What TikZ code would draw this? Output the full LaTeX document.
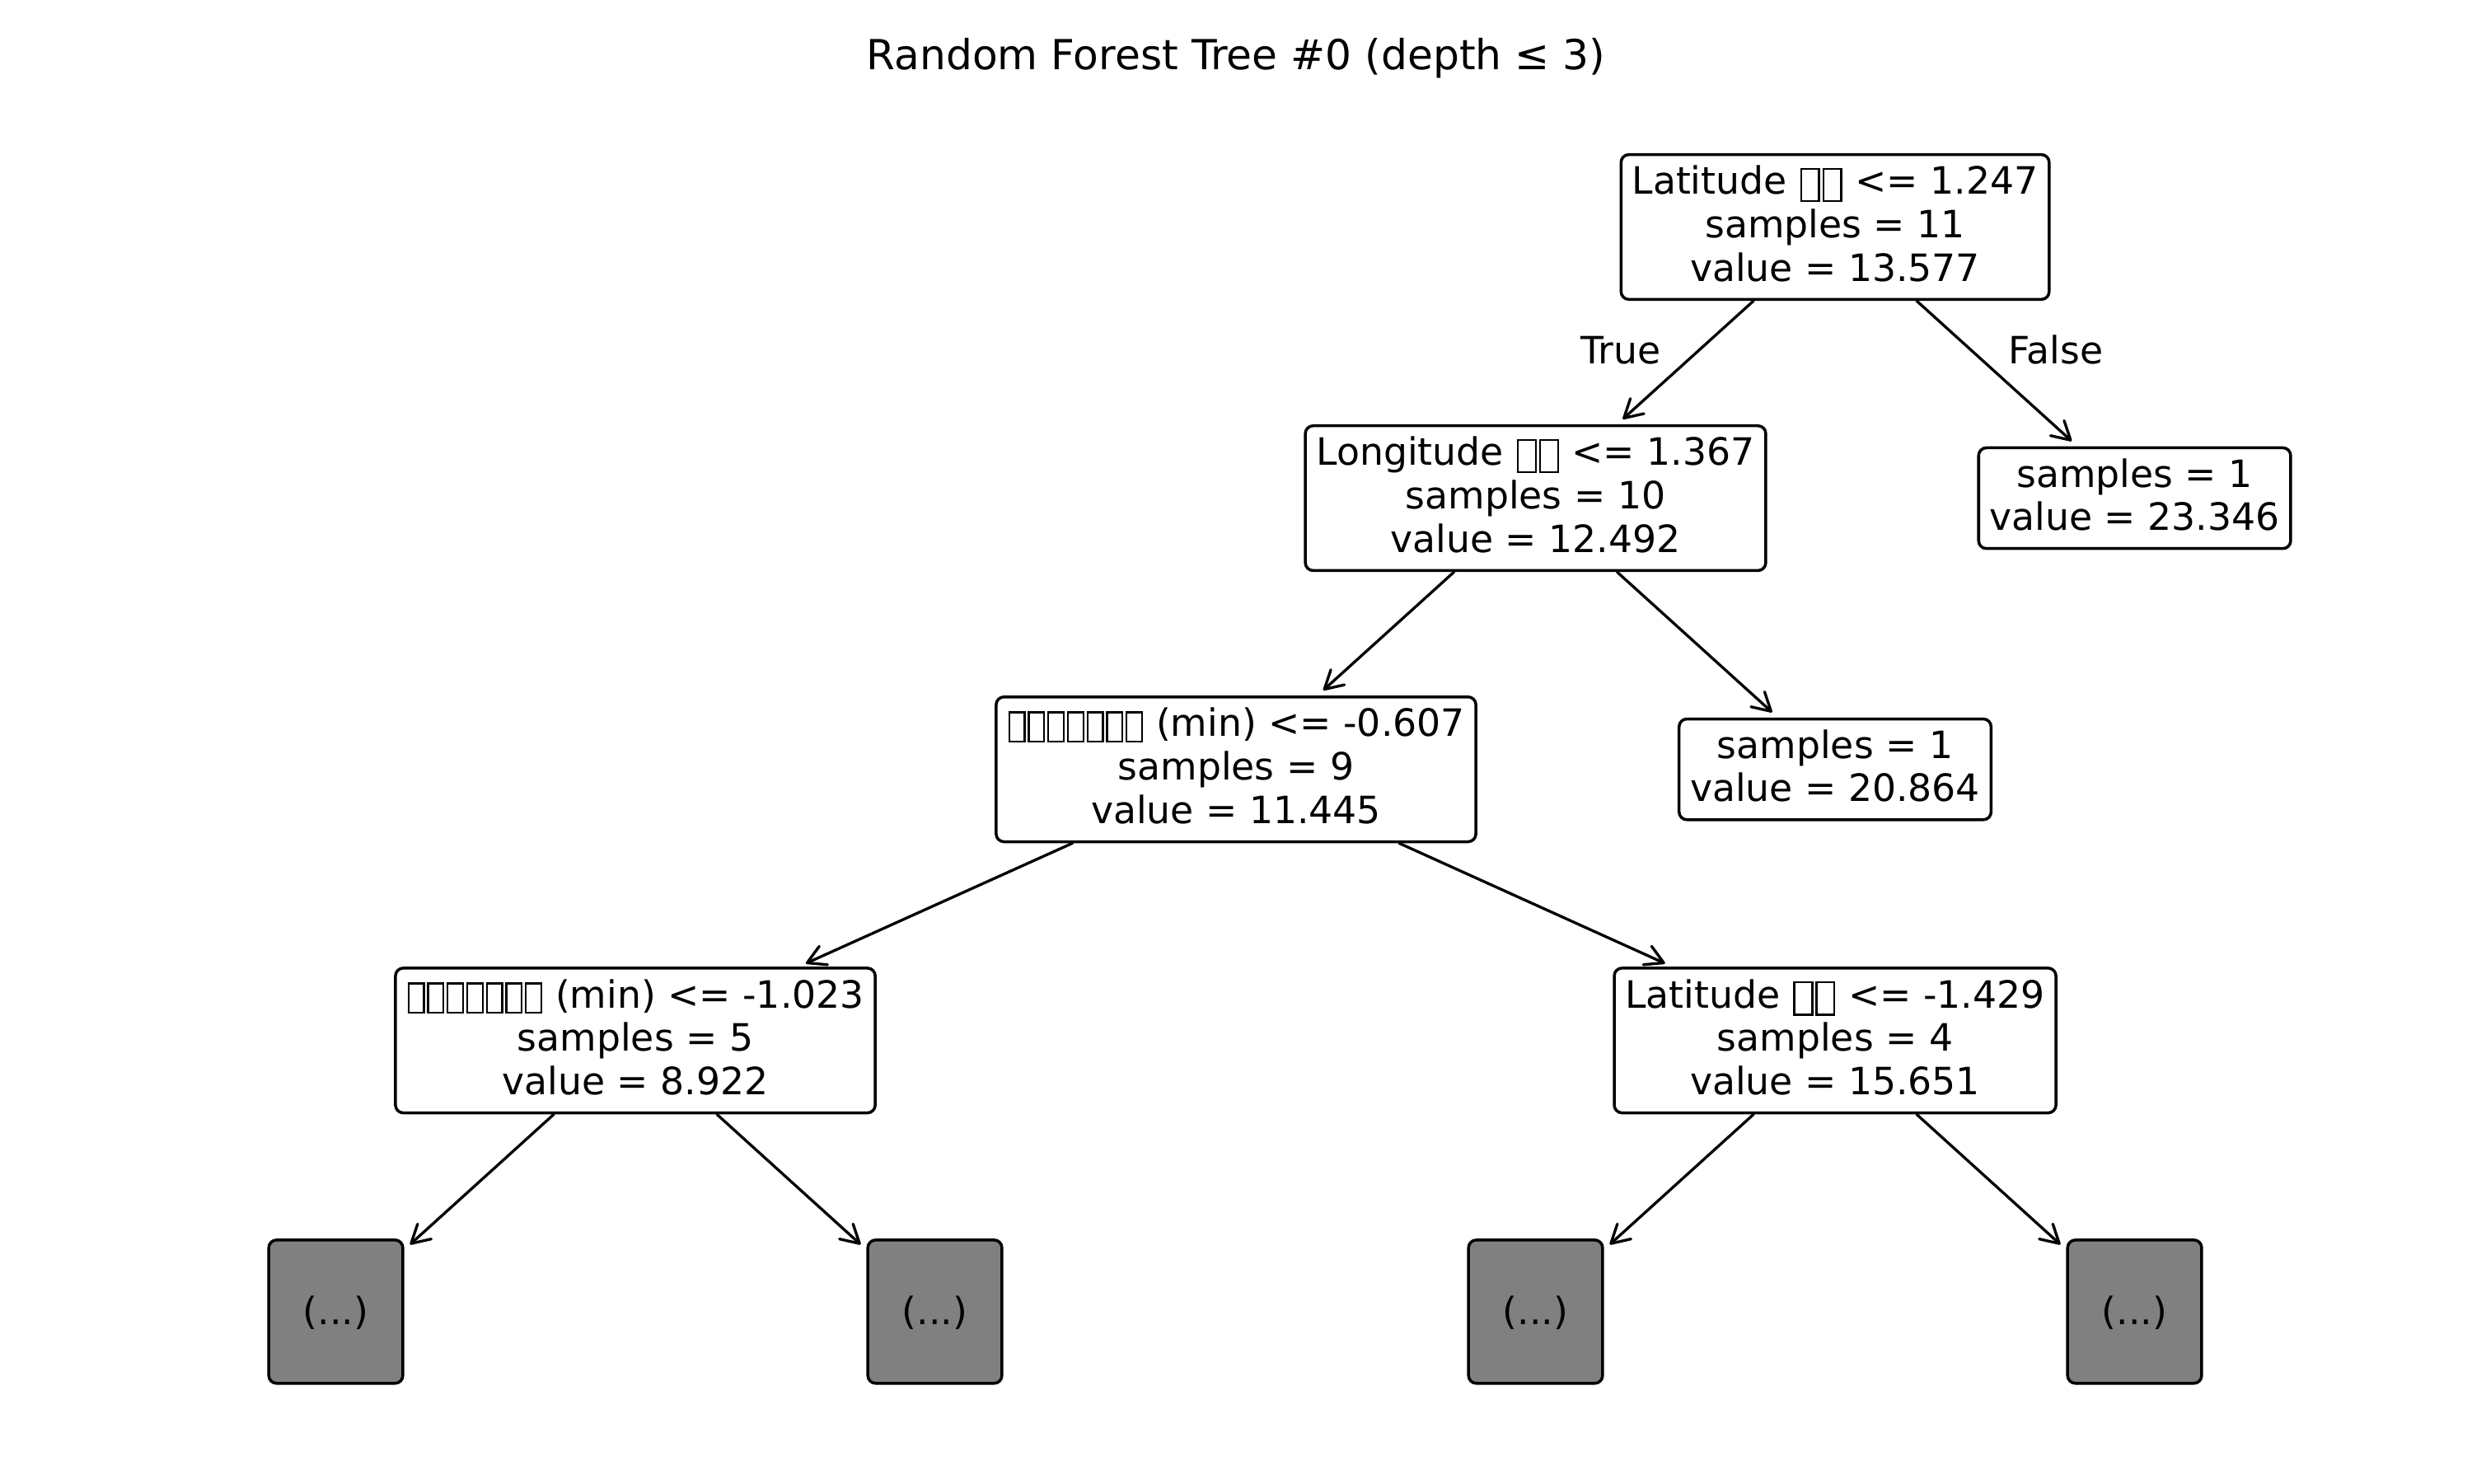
\documentclass[tikz,border=0pt]{standalone}
\usepackage{fontspec}
\setmainfont{DejaVu Sans}
\usetikzlibrary{arrows.meta}
\definecolor{midgray}{HTML}{808080}
% missing-glyph box: #1 inner width, #2 inner height, #3 depth below baseline, #4 side kern
\newcommand\tofubox[4]{\kern#4\raisebox{-#3}{\setlength\fboxsep{0pt}\setlength\fboxrule{0.05em}\fbox{\rule{0pt}{#2}\rule{#1}{0pt}}}\kern#4}
\newcommand\tofuA{\tofubox{0.43em}{0.81em}{0.16em}{0.03em}}
\newcommand\tofuB{\tofubox{0.36em}{0.73em}{0.11em}{0.03em}}
\begin{document}
\begin{tikzpicture}[x=0.019133cm,y=-0.019133cm,
  tnode/.style={draw, line width=1pt, rounded corners=2.7pt, align=center,
    font=\fontsize{13pt}{15pt}\selectfont, inner xsep=3.8pt, inner ysep=0pt,
    text depth=0.25em, minimum height=50pt, fill=white},
  leafbox/.style={tnode, minimum height=34.8pt},
  hiddenbox/.style={tnode, fill=midgray, text depth=0.12em, minimum width=46.3pt, minimum height=49.5pt},
  arr/.style={-{Straight Barb[length=6.2pt,width=7pt,round]}, line width=0.95pt, line cap=round, shorten >=2.7pt},
  lbl/.style={font=\fontsize{13pt}{15pt}\selectfont, inner sep=0pt},
  titlestyle/.style={font=\fontsize{14.3pt}{17pt}\selectfont, inner sep=0pt}]
\useasboundingbox (0,0) rectangle (1568,941);

\node[titlestyle] (title) at (784,37) {Random Forest Tree \#0 (depth ≤ 3)};

\node[tnode] (root) at (1164,144) {Latitude \tofuA\tofuA{} <= 1.247\\samples = 11\\value = 13.577};
\node[tnode] (lon) at (974,316) {Longitude \tofuA\tofuA{} <= 1.367\\samples = 10\\value = 12.492};
\node[leafbox] (leafA) at (1354,316) {samples = 1\\value = 23.346};
\node[tnode] (mid) at (784,488) {\tofuB\tofuB\tofuB\tofuB\tofuB\tofuB\tofuB{} (min) <= -0.607\\samples = 9\\value = 11.445};
\node[leafbox] (leafB) at (1164,488) {samples = 1\\value = 20.864};
\node[tnode] (ll) at (403,660) {\tofuB\tofuB\tofuB\tofuB\tofuB\tofuB\tofuB{} (min) <= -1.023\\samples = 5\\value = 8.922};
\node[tnode] (lr) at (1164,660) {Latitude \tofuA\tofuA{} <= -1.429\\samples = 4\\value = 15.651};
\node[hiddenbox] (h1) at (213,832) {(...)};
\node[hiddenbox] (h2) at (593,832) {(...)};
\node[hiddenbox] (h3) at (974,832) {(...)};
\node[hiddenbox] (h4) at (1354,832) {(...)};

\node[lbl] (ltrue) at (1028,222) {True};
\node[lbl] (lfalse) at (1304,222) {False};

\draw[arr] (root) -- (lon);
\draw[arr] (root) -- (leafA);
\draw[arr] (lon) -- (mid);
\draw[arr] (lon) -- (leafB);
\draw[arr] (mid) -- (ll);
\draw[arr] (mid) -- (lr);
\draw[arr] (ll) -- (h1);
\draw[arr] (ll) -- (h2);
\draw[arr] (lr) -- (h3);
\draw[arr] (lr) -- (h4);
\end{tikzpicture}
\end{document}
